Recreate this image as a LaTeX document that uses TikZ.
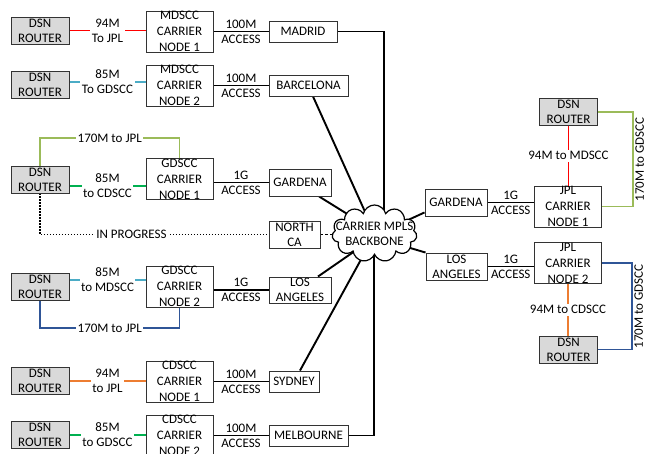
\documentclass[tikz,border=0pt]{standalone}
\usepackage{fontspec}
\setmainfont{Carlito}
\usetikzlibrary{shapes.symbols,backgrounds,calc}
\definecolor{cred}{HTML}{FF0000}
\definecolor{ccyan}{HTML}{4BACC6}
\definecolor{cgreen}{HTML}{00B050}
\definecolor{clgreen}{HTML}{9BBB59}
\definecolor{cblue}{HTML}{2F5597}
\definecolor{corange}{HTML}{ED7D31}
\newcommand\mybox[5]{%
  \node[#1] (#2) at (#3,#4) {};
  \begin{scope}
    \clip (#2.south west) rectangle (#2.north east);
    \node[txt] at (#2.center) {#5};
  \end{scope}}
\newcommand\mycarrier[4]{%
  \node[cbox] (#1) at (#2,#3) {};
  \begin{scope}
    \clip (#1.south west) rectangle (#1.north east);
    \node[txt, font=\fontsize{13}{16}\selectfont] at (#1.center) {#4};
  \end{scope}}
\begin{document}
\begin{tikzpicture}[x=1pt,y=-1pt,
  every node/.style={font=\fontsize{13}{15}\selectfont, inner sep=0pt},
  box/.style={draw=black!80, line width=0.9pt, fill=white, inner sep=0pt},
  router/.style={box, fill=black!15, minimum width=58pt, minimum height=27pt},
  cbox/.style={box, minimum width=67pt, minimum height=41pt},
  txt/.style={align=center, inner sep=0pt, text=black},
  wire/.style={line width=1.9pt},
  lbl/.style={fill=white, text=black, align=center, inner sep=1.5pt},
  acc/.style={align=center, inner sep=0pt, text=black},
  vlbl/.style={rotate=90, anchor=north, inner sep=1.5pt, text=black}
]
\useasboundingbox (0,0) rectangle (646,454);

% DSN routers
\mybox{router}{r1}{40}{30.5}{DSN\\ROUTER}
\mybox{router}{r2}{40}{85}{DSN\\ROUTER}
\mybox{router}{r3}{40}{179.5}{DSN\\ROUTER}
\mybox{router}{r4}{40}{286.5}{DSN\\ROUTER}
\mybox{router}{r5}{40}{381}{DSN\\ROUTER}
\mybox{router}{r6}{40}{435}{DSN\\ROUTER}
\mybox{router}{rt}{568.5}{112}{DSN\\ROUTER}
\mybox{router}{rb}{568.5}{349.5}{DSN\\ROUTER}

% carrier nodes
\mycarrier{m1}{179.5}{31.5}{MDSCC\\CARRIER\\NODE 1}
\mycarrier{m2}{179.5}{85.5}{MDSCC\\CARRIER\\NODE 2}
\mycarrier{g1}{179.5}{179}{GDSCC\\CARRIER\\NODE 1}
\mycarrier{g2}{179.5}{286.5}{GDSCC\\CARRIER\\NODE 2}
\mycarrier{c1}{179.5}{381.5}{CDSCC\\CARRIER\\NODE 1}
\mycarrier{c2}{179.5}{435.5}{CDSCC\\CARRIER\\NODE 2}
\mycarrier{jpl1}{568}{206.5}{JPL\\CARRIER\\NODE 1}
\mycarrier{jpl2}{568}{263}{JPL\\CARRIER\\NODE 2}

% city boxes
\mybox{box, minimum width=68pt, minimum height=21pt}{madrid}{303}{31.5}{MADRID}
\mybox{box, minimum width=79pt, minimum height=21pt}{barcelona}{308.5}{85.5}{BARCELONA}
\mybox{box, minimum width=62pt, minimum height=27pt}{gardenaL}{300}{182.5}{GARDENA}
\mybox{box, minimum width=51pt, minimum height=27pt}{northca}{294.5}{234.5}{NORTH\\CA}
\mybox{box, minimum width=62pt, minimum height=26pt}{laL}{300}{290}{LOS\\ANGELES}
\mybox{box, minimum width=50pt, minimum height=21pt}{sydney}{294}{381.5}{SYDNEY}
\mybox{box, minimum width=79pt, minimum height=21pt}{melbourne}{308.5}{435.5}{MELBOURNE}
\mybox{box, minimum width=62pt, minimum height=27pt}{gardenaR}{456}{202.5}{GARDENA}
\mybox{box, minimum width=61pt, minimum height=27pt}{laR}{456.5}{266.5}{LOS\\ANGELES}

% cloud
\node[cloud, cloud puffs=11, cloud ignores aspect, draw, fill=white, line width=1.2pt,
      minimum width=85pt, minimum height=57pt, inner sep=0pt] (cloud) at (374.5,233.5) {};
\node[txt] (cloudtxt) at (cloud.center) {CARRIER MPLS\\BACKBONE};

\begin{scope}[on background layer]
  % left DSN links
  \coordinate (a1) at (r1.east);
  \coordinate (a2) at ([yshift=3pt]r2.east);
  \coordinate (a3) at ([yshift=-6.5pt]r3.east);
  \coordinate (a4) at ([yshift=6.5pt]r4.east);
  \coordinate (a5) at (r5.east);
  \coordinate (a6) at (r6.east);
  \draw[wire, cred] (a1) -- (a1 -| m1.west) node[lbl, midway]{94M\\To JPL};
  \draw[wire, ccyan] (a2) -- (a2 -| m2.west) node[lbl, midway]{85M\\To GDSCC};
  \draw[wire, cgreen] (a3) -- (a3 -| g1.west) node[lbl, midway]{85M\\to CDSCC};
  \draw[wire, ccyan] (a4) -- (a4 -| g2.west) node[lbl, midway]{85M\\to MDSCC};
  \draw[wire, corange] (a5) -- (a5 -| c1.west) node[lbl, midway]{94M\\to JPL};
  \draw[wire, cgreen] (a6) -- (a6 -| c2.west) node[lbl, midway]{85M\\to GDSCC};
  \draw[wire, clgreen] (r3.north) |- ([yshift=20pt]g1.north) node[lbl, pos=0.75]{170M to JPL} -- (g1.north);
  \draw[wire, cblue] (r4.south) |- ([yshift=-21pt]g2.south) node[lbl, pos=0.75]{170M to JPL} -- (g2.south);
  \draw[line width=1.1pt, dash pattern=on 1.4pt off 1.6pt] (r3.south) |- (northca.west) node[lbl, pos=0.7]{IN PROGRESS};
  \draw[line width=1.5pt, dash pattern=on 3pt off 2pt] (northca.east) -- (northca.east -| cloud.center);

  % access links
  \draw[wire] (madrid.west) -- (madrid.west -| m1.east) node[acc, midway]{100M\\ACCESS};
  \draw[wire] (barcelona.west) -- (barcelona.west -| m2.east) node[acc, midway]{100M\\ACCESS};
  \draw[wire] (gardenaL.west) -- (gardenaL.west -| g1.east) node[acc, midway]{1G\\ACCESS};
  \draw[wire] (laL.west) -- (laL.west -| g2.east) node[acc, midway]{1G\\ACCESS};
  \draw[wire] (sydney.west) -- (sydney.west -| c1.east) node[acc, midway]{100M\\ACCESS};
  \draw[wire] (melbourne.west) -- (melbourne.west -| c2.east) node[acc, midway]{100M\\ACCESS};
  \draw[wire] (gardenaR.east) -- (gardenaR.east -| jpl1.west) node[acc, midway]{1G\\ACCESS};
  \draw[wire] (laR.east) -- (laR.east -| jpl2.west) node[acc, midway]{1G\\ACCESS};

  % backbone links
  \draw[wire] (madrid.east) -| ([xshift=9.5pt]cloud.center);
  \draw[wire] ([xshift=4.5pt]barcelona.south) -- ([xshift=-3.5pt,yshift=8.5pt]cloud.center);
  \draw[wire] ([xshift=19pt]gardenaL.south) -- ([xshift=-9.5pt,yshift=8.5pt]cloud.center);
  \draw[wire] ([xshift=18pt]laL.north) -- ([xshift=-9.5pt,yshift=-10.5pt]cloud.center);
  \draw[wire] ([xshift=6pt]sydney.north) -- ([xshift=-5.5pt,yshift=-11.5pt]cloud.center);
  \draw[wire] (melbourne.east) -| ([xshift=-0.5pt]cloud.center);
  \draw[wire] ([yshift=4pt]gardenaR.south west) -- ([xshift=20.5pt,yshift=7.5pt]cloud.center);
  \draw[wire] (laR.north west) -- ([xshift=15.5pt,yshift=-8.5pt]cloud.center);

  % JPL side
  \draw[wire, cred] (rt.south) -- (rt.south |- jpl1.north) node[lbl, midway]{94M to MDSCC};
  \draw[wire, clgreen] (rt.east) -| ([xshift=31pt]jpl1.east) node[vlbl, pos=0.75]{170M to GDSCC} -- (jpl1.east);
  \draw[wire, corange] (jpl2.south) -- (jpl2.south |- rb.north) node[lbl, midway]{94M to CDSCC};
  \draw[wire, cblue] (jpl2.east) -| ([xshift=34pt]rb.east) node[vlbl, pos=0.75]{170M to GDSCC} -- (rb.east);
\end{scope}
\end{tikzpicture}
\end{document}
